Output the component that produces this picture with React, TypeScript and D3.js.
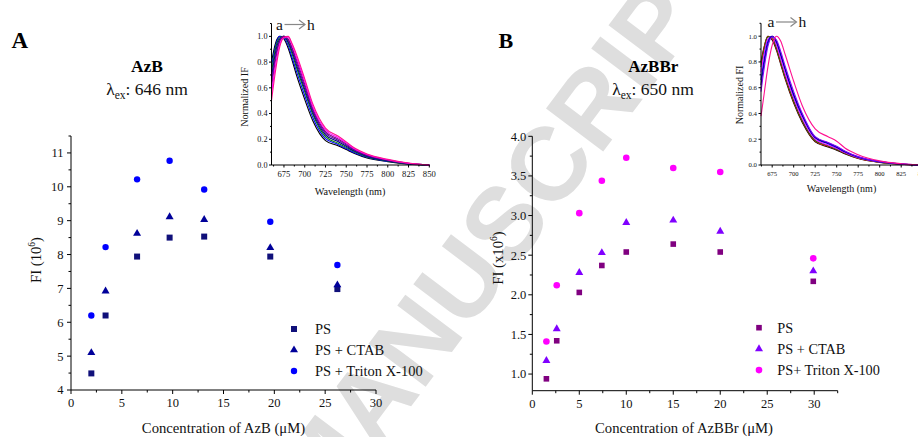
import React from "react";
import * as d3 from "d3";

// ---------- DATA ----------
const concA = [2.0, 3.4, 6.5, 9.7, 13.1, 19.6, 26.2];
const psA = [4.49, 6.2, 7.94, 8.5, 8.53, 7.94, 6.98];
const ctabA = [5.1, 6.92, 8.62, 9.11, 9.03, 8.2, 7.1];
const tritonA = [6.2, 8.22, 10.22, 10.77, 9.92, 8.97, 7.69];

const concB = [1.5, 2.6, 5.0, 7.4, 10.0, 15.0, 20.0, 29.9];
const psB = [0.94, 1.42, 2.03, 2.37, 2.54, 2.64, 2.54, 2.17];
const ctabB = [1.17, 1.57, 2.28, 2.53, 2.91, 2.94, 2.8, 2.3];
const tritonB = [1.41, 2.12, 3.03, 3.44, 3.73, 3.6, 3.55, 2.46];

const legendA = ["PS", "PS + CTAB", "PS + Triton X-100"];
const legendB = ["PS", "PS + CTAB", "PS+ Triton X-100"];

const xTicksMain = [0, 5, 10, 15, 20, 25, 30];
const xMinorA = [2.5, 7.5, 12.5, 17.5, 22.5, 27.5];
const xMinorB = [2.5, 7.5, 12.5, 17.5, 22.5, 27.5, 32.5];
const yTicksA = [4, 5, 6, 7, 8, 9, 10, 11];
const yMinorA = [4.5, 5.5, 6.5, 7.5, 8.5, 9.5, 10.5, 11.5];
const yTicksB = [1.0, 1.5, 2.0, 2.5, 3.0, 3.5, 4.0];
const yMinorB = [1.25, 1.75, 2.25, 2.75, 3.25, 3.75];

const insetXTicks = [675, 700, 725, 750, 775, 800, 825, 850];
const insetXMinor = [662.5, 687.5, 712.5, 737.5, 762.5, 787.5, 812.5, 837.5];
const insetYTicks = [0, 0.2, 0.4, 0.6, 0.8, 1.0];
const insetYMinor = [0.1, 0.3, 0.5, 0.7, 0.9, 1.1];

const wlA = [660, 665, 670, 675, 680, 685, 690, 700, 710, 725, 740, 750, 760, 775, 800, 825, 850];
const specA_a = [0.8, 0.95, 1.0, 0.98, 0.91, 0.81, 0.7, 0.51, 0.34, 0.19, 0.15, 0.12, 0.09, 0.055, 0.026, 0.007, 0.0];
const specA_b = [0.76, 0.93, 1.0, 0.99, 0.93, 0.83, 0.73, 0.54, 0.365, 0.205, 0.16, 0.128, 0.096, 0.06, 0.029, 0.008, 0.0];
const specA_c = [0.72, 0.91, 0.99, 1.0, 0.95, 0.86, 0.76, 0.57, 0.39, 0.22, 0.17, 0.137, 0.103, 0.065, 0.032, 0.01, 0.0];
const specA_d = [0.68, 0.88, 0.98, 1.0, 0.96, 0.88, 0.78, 0.59, 0.405, 0.235, 0.182, 0.146, 0.108, 0.069, 0.034, 0.011, 0.0];
const specA_e = [0.64, 0.85, 0.97, 1.0, 0.97, 0.9, 0.8, 0.61, 0.42, 0.248, 0.193, 0.155, 0.114, 0.073, 0.036, 0.012, 0.0];
const specA_f = [0.6, 0.82, 0.96, 1.0, 0.98, 0.91, 0.82, 0.63, 0.435, 0.26, 0.203, 0.164, 0.12, 0.077, 0.038, 0.013, 0.0];
const specA_g = [0.55, 0.78, 0.94, 0.99, 0.995, 0.93, 0.84, 0.65, 0.45, 0.273, 0.213, 0.172, 0.126, 0.081, 0.041, 0.014, 0.0];
const specA_h = [0.5, 0.74, 0.92, 0.99, 1.0, 0.94, 0.86, 0.67, 0.47, 0.287, 0.225, 0.18, 0.132, 0.086, 0.044, 0.015, 0.0];
const specsA = [specA_a, specA_b, specA_c, specA_d, specA_e, specA_f, specA_g, specA_h];
const colorsA = ["#000000", "#0000ff", "#008000", "#000080", "#4b00a0", "#800080", "#ff00ff", "#ff1090"];

const wlB = [662, 665, 670, 675, 680, 685, 690, 700, 710, 725, 740, 750, 760, 775, 800, 825, 850];
const specB_a = [0.8, 0.9, 1.0, 0.97, 0.89, 0.78, 0.67, 0.48, 0.33, 0.18, 0.14, 0.115, 0.085, 0.05, 0.02, 0.006, 0.0];
const specB_b = [0.78, 0.89, 1.0, 0.98, 0.9, 0.79, 0.68, 0.49, 0.34, 0.185, 0.145, 0.12, 0.09, 0.052, 0.021, 0.006, 0.0];
const specB_c = [0.76, 0.87, 0.995, 0.99, 0.91, 0.8, 0.69, 0.5, 0.345, 0.19, 0.15, 0.123, 0.092, 0.054, 0.022, 0.007, 0.0];
const specB_d = [0.72, 0.84, 0.98, 1.0, 0.93, 0.82, 0.71, 0.52, 0.36, 0.2, 0.155, 0.128, 0.095, 0.056, 0.023, 0.007, 0.0];
const specB_e = [0.66, 0.79, 0.96, 1.0, 0.95, 0.85, 0.74, 0.54, 0.38, 0.21, 0.165, 0.135, 0.1, 0.06, 0.025, 0.008, 0.0];
const specB_f = [0.62, 0.76, 0.94, 1.0, 0.96, 0.86, 0.75, 0.55, 0.39, 0.215, 0.17, 0.14, 0.103, 0.062, 0.026, 0.008, 0.0];
const specB_g = [0.57, 0.72, 0.92, 0.995, 0.97, 0.88, 0.77, 0.57, 0.4, 0.22, 0.175, 0.145, 0.107, 0.065, 0.027, 0.009, 0.0];
const specB_h = [0.38, 0.52, 0.76, 0.93, 1.0, 0.96, 0.86, 0.65, 0.46, 0.28, 0.22, 0.185, 0.13, 0.08, 0.032, 0.01, 0.0];
const specsB = [specB_a, specB_b, specB_c, specB_d, specB_e, specB_f, specB_g, specB_h];
const colorsB = ["#000000", "#ff0000", "#008000", "#ff00ff", "#0000ff", "#000080", "#8000ff", "#ff1090"];

// ---------- STYLE ----------
const SERIF = "'Liberation Serif', 'Times New Roman', Times, serif";
const SANS = "'Liberation Sans', Arial, sans-serif";

// scales
const xA = d3.scaleLinear().domain([0, 30]).range([71, 376]);
const yA = d3.scaleLinear().domain([4, 11.5]).range([390, 136]);
const xB = d3.scaleLinear().domain([0, 32.5]).range([532.3, 837.7]);
const yB = d3.scaleLinear().domain([0.79, 4.0]).range([390.7, 136.3]);
const xIA = d3.scaleLinear().domain([660, 850]).range([271.5, 429.3]);
const yIA = d3.scaleLinear().domain([0, 1.1]).range([165, 23.5]);
const xIB = d3.scaleLinear().domain([662, 850]).range([761, 922.7]);
const yIB = d3.scaleLinear().domain([0, 1.1]).range([165, 23.3]);

type Sc = d3.ScaleLinear<number, number>;

function XAxis({ x, y, major, minor, fmt, fs, majLen, minLen, labelDy }: { x: Sc; y: number; major: number[]; minor: number[]; fmt: (v: number) => string; fs: number; majLen: number; minLen: number; labelDy: number }) {
  const [r0, r1] = x.range();
  return (
    <g>
      <line x1={r0} x2={r1} y1={y} y2={y} stroke="#000" strokeWidth={1} />
      {major.map((v) => (
        <g key={"M" + v}>
          <line x1={x(v)} x2={x(v)} y1={y} y2={y + majLen} stroke="#000" strokeWidth={1} />
          <text x={x(v)} y={y + labelDy} fontSize={fs} fontFamily={SERIF} textAnchor="middle" fill="#111">{fmt(v)}</text>
        </g>
      ))}
      {minor.map((v) => (
        <line key={"m" + v} x1={x(v)} x2={x(v)} y1={y} y2={y + minLen} stroke="#000" strokeWidth={1} />
      ))}
    </g>
  );
}

function YAxis({ y, x, major, minor, fmt, fs, majLen, minLen, labelDx }: { y: Sc; x: number; major: number[]; minor: number[]; fmt: (v: number) => string; fs: number; majLen: number; minLen: number; labelDx: number }) {
  const [r0, r1] = y.range();
  return (
    <g>
      <line x1={x} x2={x} y1={r0} y2={r1} stroke="#000" strokeWidth={1} />
      {major.map((v) => (
        <g key={"M" + v}>
          <line x1={x - majLen} x2={x} y1={y(v)} y2={y(v)} stroke="#000" strokeWidth={1} />
          <text x={x - labelDx} y={y(v)} dy="0.35em" fontSize={fs} fontFamily={SERIF} textAnchor="end" fill="#111">{fmt(v)}</text>
        </g>
      ))}
      {minor.map((v) => (
        <line key={"m" + v} x1={x - minLen} x2={x} y1={y(v)} y2={y(v)} stroke="#000" strokeWidth={1} />
      ))}
    </g>
  );
}

const sq = (s: number) => d3.symbol().type(d3.symbolSquare).size(s * s)()!;
const tri = (side: number) => d3.symbol().type(d3.symbolTriangle).size((Math.sqrt(3) / 4) * side * side)()!;
const circ = (r: number) => d3.symbol().type(d3.symbolCircle).size(Math.PI * r * r)()!;

function Markers({ xs, ys, x, y, path, color }: { xs: number[]; ys: number[]; x: Sc; y: Sc; path: string; color: string }) {
  return (
    <g>
      {xs.map((v, i) => (
        <path key={i} d={path} transform={`translate(${x(v)},${y(ys[i])})`} fill={color} />
      ))}
    </g>
  );
}

function Inset({ x, y, wl, specs, colors, yTitle, xfs, yfs, titleFs, yTitleX, yTitleY, xTitleX, xTitleY, xLabelDy, arrowX, arrowY }: any) {
  const line = d3
    .line<number>()
    .x((_, i) => x(wl[i]))
    .y((d) => y(d))
    .curve(d3.curveMonotoneX);
  return (
    <g>
      {specs.map((s: number[], i: number) => (
        <path key={i} d={line(s)!} fill="none" stroke={colors[i]} strokeWidth={1.1} />
      ))}
      <XAxis x={x} y={165} major={insetXTicks} minor={insetXMinor} fmt={(v) => String(v)} fs={xfs} majLen={2.5} minLen={1.5} labelDy={xLabelDy} />
      <YAxis y={y} x={x.range()[0]} major={insetYTicks} minor={insetYMinor} fmt={(v) => v.toFixed(1)} fs={yfs} majLen={2.5} minLen={1.5} labelDx={4} />
      <text transform={`translate(${yTitleX},${yTitleY}) rotate(-90)`} textAnchor="middle" fontSize={titleFs} fontFamily={SERIF} fill="#111">{yTitle}</text>
      <text x={xTitleX} y={xTitleY} textAnchor="middle" fontSize={titleFs} fontFamily={SERIF} fill="#111">Wavelength (nm)</text>
      <text x={arrowX} y={arrowY} fontSize={15.5} fontFamily={SERIF} fill="#111">a</text>
      <line x1={arrowX + 8.5} x2={arrowX + 28.5} y1={arrowY - 5} y2={arrowY - 5} stroke="#888" strokeWidth={1.2} />
      <polyline points={`${arrowX + 23},${arrowY - 9.5} ${arrowX + 29},${arrowY - 5} ${arrowX + 23},${arrowY - 0.5}`} fill="none" stroke="#888" strokeWidth={1.2} />
      <text x={arrowX + 31} y={arrowY} fontSize={15.5} fontFamily={SERIF} fill="#111">h</text>
    </g>
  );
}

export default function App() {
  const sqA = sq(6);
  const triA = tri(8);
  const cirA = circ(3.2);
  const sqB = sq(5.6);
  const triB = tri(8);
  const cirB = circ(3.3);
  const colA = ["#10107a", "#00009a", "#0000ff"];
  const colB = ["#800080", "#8000ff", "#ff00ff"];
  const symA = [sqA, triA, cirA];
  const symB = [sqB, triB, cirB];
  return (
    <svg width={918} height={437} style={{ position: "absolute", left: 0, top: 0, background: "#fff" }} xmlns="http://www.w3.org/2000/svg">
      <rect width={918} height={437} fill="#fff" />
      {/* watermark */}
      <text transform="translate(503,222) rotate(-53)" textAnchor="middle" dy="0.36em" fontSize={104} fontWeight="bold" fontFamily={SANS} fill="#dedede">MANUSCRIPT</text>

      {/* ===== Panel A ===== */}
      <text x={11.5} y={48.3} fontSize={23} fontWeight="bold" fontFamily={SERIF} fill="#000">A</text>
      <text x={147} y={71.7} textAnchor="middle" fontSize={17.5} fontWeight="bold" fontFamily={SERIF} fill="#000">AzB</text>
      <text x={147} y={95} textAnchor="middle" fontSize={17.5} fontFamily={SERIF} fill="#111">
        λ<tspan fontSize={11.5} dy={4}>ex</tspan><tspan dy={-4}>: 646 nm</tspan>
      </text>
      <XAxis x={xA} y={390} major={xTicksMain} minor={xMinorA} fmt={(v) => String(v)} fs={12.5} majLen={4} minLen={2.5} labelDy={17.3} />
      <YAxis y={yA} x={71} major={yTicksA} minor={yMinorA.filter((v) => v <= 11.5)} fmt={(v) => String(v)} fs={12.5} majLen={4} minLen={2.5} labelDx={7.5} />
      <text transform="translate(40.5,260) rotate(-90)" textAnchor="middle" fontSize={14.7} fontFamily={SERIF} fill="#111">
        FI (10<tspan fontSize={9.5} dy={-6}>6</tspan><tspan dy={6}>)</tspan>
      </text>
      <text x={223.5} y={433} textAnchor="middle" fontSize={14.7} fontFamily={SERIF} fill="#111">Concentration of AzB (μM)</text>
      <Markers xs={concA} ys={psA} x={xA} y={yA} path={sqA} color={colA[0]} />
      <Markers xs={concA} ys={ctabA} x={xA} y={yA} path={triA} color={colA[1]} />
      <Markers xs={concA} ys={tritonA} x={xA} y={yA} path={cirA} color={colA[2]} />
      {legendA.map((t, i) => (
        <g key={t}>
          <path d={symA[i]} transform={`translate(294,${329 + i * 21})`} fill={colA[i]} />
          <text x={315} y={329 + i * 21 + 5} fontSize={14.5} fontFamily={SERIF} fill="#111">{t}</text>
        </g>
      ))}
      <Inset x={xIA} y={yIA} wl={wlA} specs={specsA} colors={colorsA} yTitle="Normalized IF" xfs={8.6} yfs={8.2} titleFs={10.2} yTitleX={248} yTitleY={97} xTitleX={350} xTitleY={195} xLabelDy={12.3} arrowX={276} arrowY={29.5} />

      {/* ===== Panel B ===== */}
      <text x={498.5} y={48.3} fontSize={22} fontWeight="bold" fontFamily={SERIF} fill="#000">B</text>
      <text x={653.3} y={71.7} textAnchor="middle" fontSize={17} fontWeight="bold" fontFamily={SERIF} fill="#000">AzBBr</text>
      <text x={653} y={95} textAnchor="middle" fontSize={17.5} fontFamily={SERIF} fill="#111">
        λ<tspan fontSize={11.5} dy={4}>ex</tspan><tspan dy={-4}>: 650 nm</tspan>
      </text>
      <XAxis x={xB} y={390.7} major={xTicksMain} minor={xMinorB} fmt={(v) => String(v)} fs={12.5} majLen={4} minLen={2.5} labelDy={16.8} />
      <YAxis y={yB} x={532.3} major={yTicksB} minor={yMinorB} fmt={(v) => v.toFixed(1)} fs={12.5} majLen={4} minLen={2.5} labelDx={6} />
      <text transform="translate(502.5,258) rotate(-90)" textAnchor="middle" fontSize={14.7} fontFamily={SERIF} fill="#111">
        FI (x10<tspan fontSize={9.5} dy={-6}>6</tspan><tspan dy={6}>)</tspan>
      </text>
      <text x={684} y={433} textAnchor="middle" fontSize={14.7} fontFamily={SERIF} fill="#111">Concentration of AzBBr (μM)</text>
      <Markers xs={concB} ys={psB} x={xB} y={yB} path={sqB} color={colB[0]} />
      <Markers xs={concB} ys={ctabB} x={xB} y={yB} path={triB} color={colB[1]} />
      <Markers xs={concB} ys={tritonB} x={xB} y={yB} path={cirB} color={colB[2]} />
      {legendB.map((t, i) => (
        <g key={t}>
          <path d={symB[i]} transform={`translate(759,${327.7 + i * 21.2})`} fill={colB[i]} />
          <text x={777.3} y={327.7 + i * 21.2 + 5} fontSize={14.3} fontFamily={SERIF} fill="#111">{t}</text>
        </g>
      ))}
      <Inset x={xIB} y={yIB} wl={wlB} specs={specsB} colors={colorsB} yTitle="Normalized FI" xfs={6.6} yfs={6.8} titleFs={10} yTitleX={742.7} yTitleY={95} xTitleX={841.5} xTitleY={191.7} xLabelDy={10.8} arrowX={767.5} arrowY={27} />
    </svg>
  );
}
